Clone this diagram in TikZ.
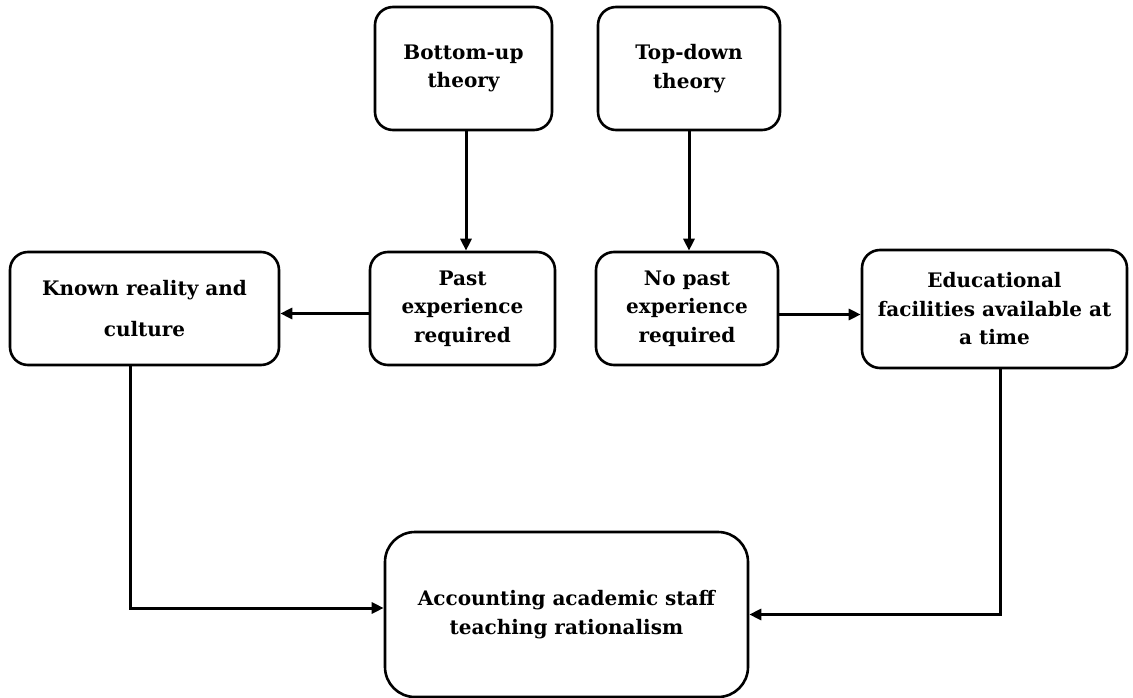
\documentclass[tikz,border=0pt]{standalone}
\usepackage{fontspec}
\setmainfont{DejaVu Serif}
\usetikzlibrary{arrows.meta,positioning}
\tikzset{
  theory box/.style={
    rectangle, rounded corners=18pt, draw=black, line width=2.6pt,
    fill=white, align=center, inner sep=2pt,
    font=\fontsize{20}{28.5}\selectfont\bfseries
  },
  result box/.style={theory box, rounded corners=30pt},
  flow arrow/.style={-{Triangle[length=12pt,width=11pt]}, line width=3pt}
}

\begin{document}
\begin{tikzpicture}[x=1pt,y=-1pt]
    \useasboundingbox (0,0) rectangle (1133,698);
    \node[theory box, minimum width=177pt, minimum height=123pt] (bottomup) at (463.5,68.5) {Bottom-up\\theory};
    \node[theory box, minimum width=182pt, minimum height=123pt] (topdown) at (689,68.5) {Top-down\\theory};
    \node[theory box, minimum width=269pt, minimum height=113pt] (known) at (144.5,308.5) {Known reality and\\[13pt]culture};
    \node[theory box, minimum width=185pt, minimum height=113pt] (past) at (462.5,308.5) {Past\\experience\\required};
    \node[theory box, minimum width=182pt, minimum height=113pt] (nopast) at (687,308.5) {No past\\experience\\required};
    \node[theory box, minimum width=265pt, minimum height=118pt] (facilities) at (994.5,309) {Educational\\facilities available at\\a time};
    \node[result box, minimum width=363pt, minimum height=165pt] (rationalism) at (566.5,614.5) {Accounting academic staff\\teaching rationalism};
    % theories to experience
    \draw[flow arrow] ([xshift=2.5pt]bottomup.south) -- ([xshift=3.5pt]past.north);
    \draw[flow arrow] (topdown.south) -- ([xshift=2pt]nopast.north);
    \draw[flow arrow] ([yshift=-5pt]past.west) -- ([yshift=-5pt]known.east);
    \draw[flow arrow] ([yshift=-6pt]nopast.east) -- ([yshift=-6pt]nopast.east -| facilities.west);
    % down to the result
    \draw[flow arrow] ([xshift=-14pt]known.south) |- ([yshift=6.5pt]rationalism.west);
    \draw[flow arrow] ([xshift=6pt]facilities.south) |- (rationalism.east);
\end{tikzpicture}
\end{document}
